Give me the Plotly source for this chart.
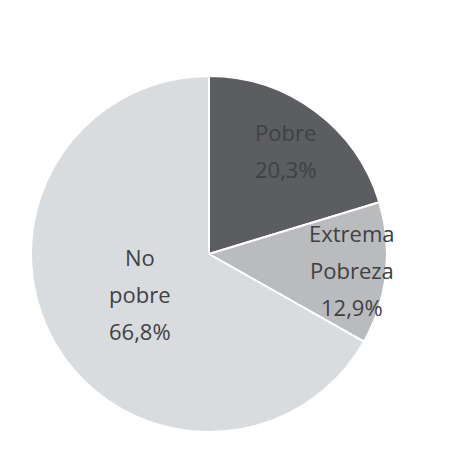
import math
import plotly.graph_objects as go

categories = ["Pobre", "Extrema Pobreza", "No pobre"]
label_lines = [["Pobre"], ["Extrema", "Pobreza"], ["No", "pobre"]]
values = [20.3, 12.9, 66.8]
colors = ["#5b5d60", "#b9bbbd", "#d9dcdf"]

# layout / style constants
W, H = 458, 449
ML, MR, MT, MB = 22, 78, 68, 25
PW, PH = W - ML - MR, H - MT - MB
R_PX = 177
label_radius_frac = [0.73, 0.81, 0.45]
line_gap_px = 37
font = dict(family="Open Sans", size=22, color="#3f4143")

fig = go.Figure(go.Pie(
    labels=categories,
    values=values,
    textinfo="none",
    sort=False,
    direction="clockwise",
    rotation=0,
    marker=dict(colors=colors, line=dict(color="#ffffff", width=2)),
    hoverinfo="none",
))

annotations = []
total = sum(values)
cum = 0.0
for lines, v, frac in zip(label_lines, values, label_radius_frac):
    mid = (cum + v / 2) / total * 2 * math.pi
    cum += v
    dx = math.sin(mid) * R_PX * frac
    dy = math.cos(mid) * R_PX * frac
    all_lines = lines + [f"{v:.1f}%".replace(".", ",")]
    n = len(all_lines)
    for i, t in enumerate(all_lines):
        off = ((n - 1) / 2 - i) * line_gap_px
        annotations.append(dict(
            text=t, showarrow=False,
            xref="paper", yref="paper",
            x=0.5 + dx / PW, y=0.5 + (dy + off) / PH,
            xanchor="center", yanchor="middle",
            font=font,
        ))

fig.update_layout(
    width=W, height=H,
    margin=dict(l=ML, r=MR, t=MT, b=MB),
    showlegend=False,
    paper_bgcolor="#ffffff",
    plot_bgcolor="#ffffff",
    annotations=annotations,
)
fig.write_html("out.html")
